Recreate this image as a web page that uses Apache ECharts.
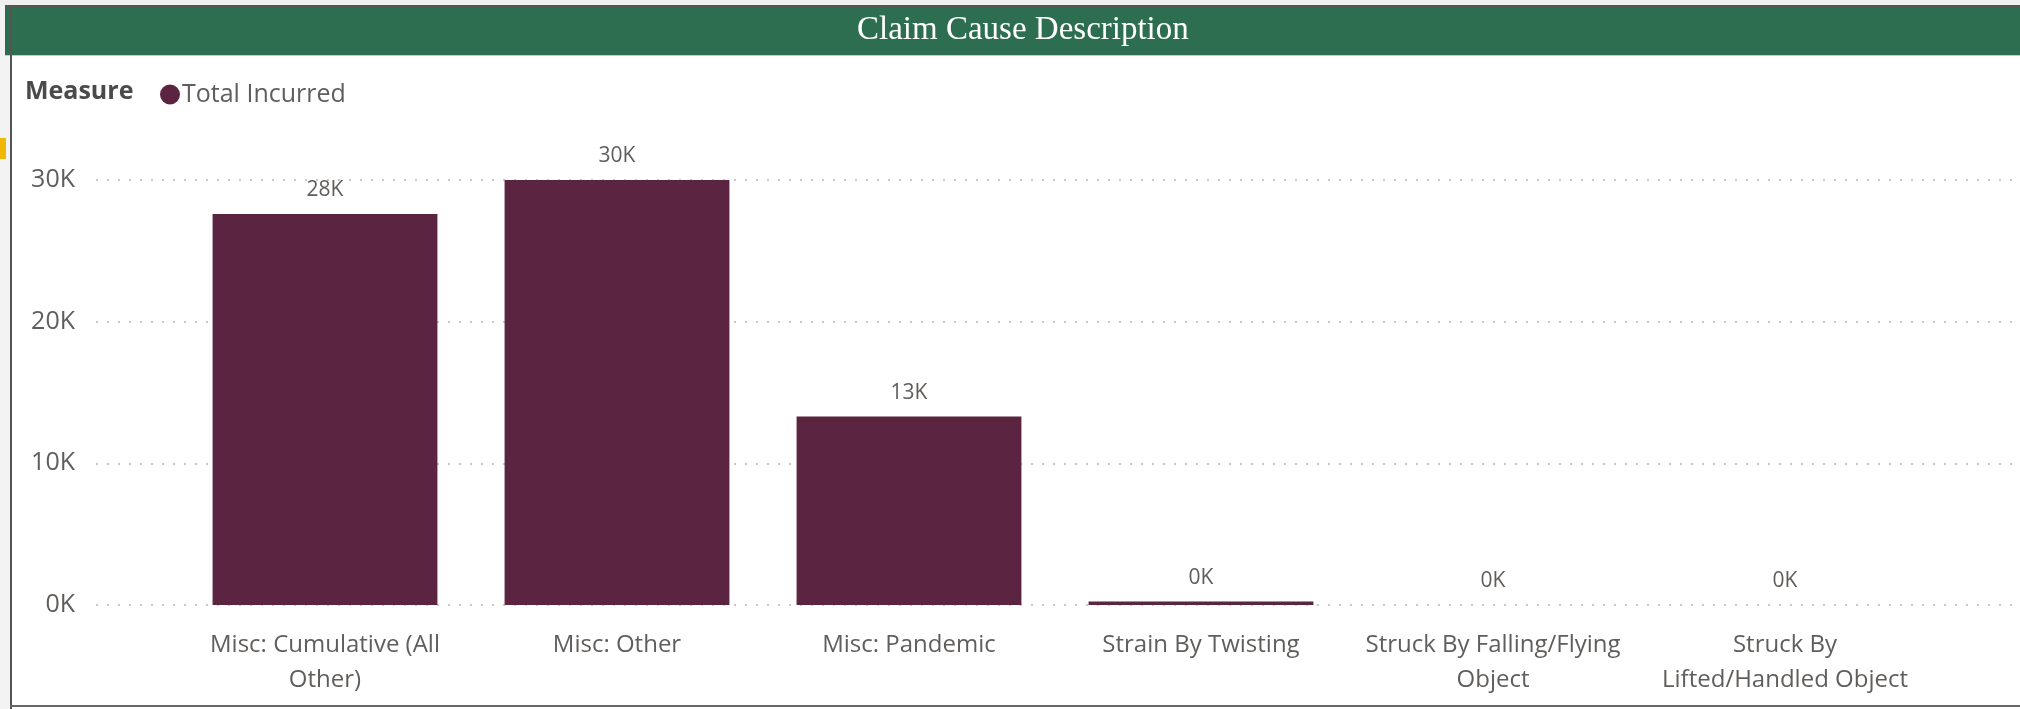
<!DOCTYPE html>
<html>
<head>
<meta charset="utf-8">
<script src="https://cdn.jsdelivr.net/npm/echarts@6/dist/echarts.min.js"></script>
<style>
html,body{margin:0;padding:0;background:#fff;}
#c{width:2020px;height:709px;}
</style>
</head>
<body>
<div id="c"></div>
<script>
const categories = ["Misc: Cumulative (All Other)", "Misc: Other", "Misc: Pandemic", "Strain By Twisting", "Struck By Falling/Flying Object", "Struck By Lifted/Handled Object"];
const totalIncurred = [27600, 30000, 13300, 250, 0, 0];
const yTicks = [0, 10000, 20000, 30000];
const titleText = "Claim Cause Description";
const legendTitle = "Measure";
const seriesName = "Total Incurred";

const txt = '#605E5C';
const font = 'Open Sans';
const labelSize = 24;
const wrapWidth = 266;

const ctx = document.createElement('canvas').getContext('2d');
ctx.font = labelSize + 'px "' + font + '"';
function wordWrap(s) {
  const words = s.split(' ');
  const lines = [];
  let cur = '';
  for (const w of words) {
    const test = cur ? cur + ' ' + w : w;
    if (cur && ctx.measureText(test).width > wrapWidth) { lines.push(cur); cur = w; }
    else cur = test;
  }
  if (cur) lines.push(cur);
  return lines.join('\n');
}

const chart = echarts.init(document.getElementById('c'));
chart.setOption({
  animation: false,
  backgroundColor: '#ffffff',
  title: {
    text: titleText, left: 852, top: 9,
    textStyle: {color: '#ffffff', fontFamily: 'Liberation Serif', fontSize: 33, fontWeight: 'normal'}
  },
  legend: {
    left: 155, top: 77, itemWidth: 20, itemHeight: 20, itemGap: 10,
    icon: 'circle',
    data: [seriesName],
    textStyle: {color: txt, fontFamily: font, fontSize: 25, padding: [0,0,0,-3]}
  },
  graphic: [
    {type: 'rect', left: 0, top: 0, shape: {width: 2020, height: 6}, style: {fill: '#f0f0f0'}, z: -1},
    {type: 'rect', left: 0, top: 6, shape: {width: 11, height: 703}, style: {fill: '#f3f3f3'}, z: -1},
    {type: 'rect', left: 0, top: 138, shape: {width: 6, height: 21}, style: {fill: '#F2B705'}, z: 2},
    {type: 'rect', left: 10, top: 6, shape: {width: 2, height: 703}, style: {fill: '#555'}, z: 1},
    {type: 'rect', left: 10, top: 705, shape: {width: 2010, height: 2}, style: {fill: '#666'}, z: 1},
    {type: 'rect', left: 5, top: 5, shape: {width: 2015, height: 2}, style: {fill: '#555'}, z: 1},
    {type: 'rect', left: 5, top: 7, shape: {width: 2015, height: 48}, style: {fill: '#2C6E4F'}, z: 0},
    {type: 'rect', left: 5, top: 55, shape: {width: 2015, height: 1}, style: {fill: '#b9d2c3'}, z: 0},
    {type: 'text', left: 25, top: 79, style: {text: legendTitle, fill: '#4a4a4a', font: 'bold 25px "Open Sans"'}}
  ],
  grid: [
    {left: 96, right: 5, top: 180, bottom: 104},
    {left: 179, right: 89, top: 180, bottom: 104}
  ],
  xAxis: [
    {gridIndex: 0, type: 'value', show: false, min: 0, max: 1},
    {gridIndex: 1, type: 'category', data: categories,
     axisLine: {show: false}, axisTick: {show: false},
     axisLabel: {interval: 0, color: txt, fontFamily: font, fontSize: labelSize, margin: 23, lineHeight: 35,
                 formatter: v => wordWrap(v)}}
  ],
  yAxis: [
    {gridIndex: 0, type: 'value', min: 0, max: 30000, interval: 10000,
     axisLine: {show: false}, axisTick: {show: false},
     axisLabel: {color: txt, fontFamily: font, fontSize: 25, margin: 21,
                 formatter: v => yTicks.includes(v) ? (v/1000) + 'K' : ''},
     splitLine: {lineStyle: {color: '#c8c8c8', type: [2, 9], width: 2}}},
    {gridIndex: 1, type: 'value', min: 0, max: 30000, interval: 10000, show: false, splitLine: {show: false}}
  ],
  series: [{
    name: seriesName, type: 'bar', xAxisIndex: 1, yAxisIndex: 1,
    data: totalIncurred, barCategoryGap: '23%',
    itemStyle: {color: '#5B2441'},
    label: {show: true, position: 'top', distance: 13, color: txt, fontFamily: font, fontSize: 21,
            formatter: p => Math.round(p.value / 1000) + 'K'}
  }]
});
</script>
</body>
</html>
